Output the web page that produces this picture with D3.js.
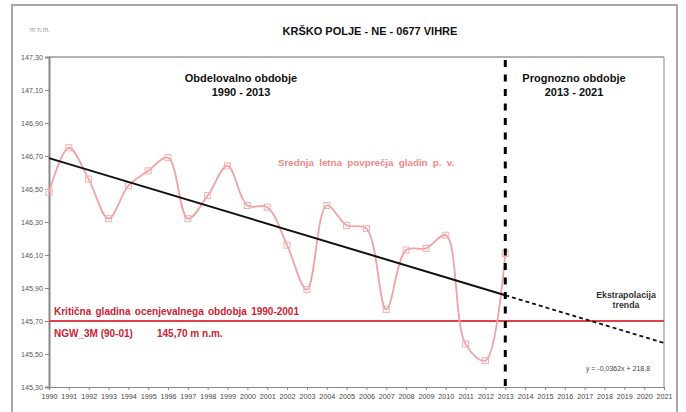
<!DOCTYPE html>
<html><head><meta charset="utf-8">
<script src="https://cdn.jsdelivr.net/npm/d3@7"></script>
<style>
html,body{margin:0;padding:0;background:#fff;}
svg{display:block;font-family:"Liberation Sans",Arial,sans-serif;}
</style></head>
<body>
<svg id="c" width="686" height="412"></svg>
<script>
const years = d3.range(1990, 2022);
const obsYears = d3.range(1990, 2014);
const levels = [146.48,146.75,146.56,146.32,146.52,146.61,146.69,146.32,146.46,146.64,146.40,146.39,
                146.16,145.89,146.40,146.28,146.26,145.77,146.13,146.14,146.22,145.56,145.46,146.11];
const yTicks = [145.30,145.50,145.70,145.90,146.10,146.30,146.50,146.70,146.90,147.10,147.30];
const criticalLevel = 145.70;
const splitYear = 2013;

const svg = d3.select("#c");
const L = 49, R = 664, T = 57, B = 387;
const x = d3.scaleLinear().domain([1990, 2021]).range([L, R]);
const y = d3.scaleLinear().domain([145.30, 147.30]).range([B, T]);
const fmt = v => d3.format(".2f")(v).replace(".", ",");

// outer border
svg.append("rect").attr("x",12).attr("y",5).attr("width",665).attr("height",410)
  .attr("fill","none").attr("stroke","#a6a6a6").attr("stroke-width",2);

// plot frame
svg.append("line").attr("x1",L).attr("x2",R).attr("y1",T).attr("y2",T).attr("stroke","#666").attr("stroke-width",1.2);
svg.append("line").attr("x1",R).attr("x2",R).attr("y1",T).attr("y2",B).attr("stroke","#999").attr("stroke-width",1.2);

// axes
const yAxis = d3.axisLeft(y).tickValues(yTicks).tickFormat(fmt).tickSize(4).tickPadding(2);
const gy = svg.append("g").attr("transform",`translate(${L},0)`).call(yAxis);
gy.select(".domain").attr("stroke","#888").attr("stroke-width",2);
gy.selectAll(".tick line").attr("stroke","#888");
gy.selectAll("text").attr("font-size",7.2).attr("fill","#555").attr("font-family","Liberation Sans, Arial, sans-serif");

const xAxis = d3.axisBottom(x).tickValues(years).tickFormat(d3.format("d")).tickSize(3).tickPadding(4);
const gx = svg.append("g").attr("transform",`translate(0,${B})`).call(xAxis);
gx.select(".domain").attr("stroke","#888").attr("stroke-width",1.2);
gx.selectAll(".tick line").attr("stroke","#888");
gx.selectAll("text").attr("font-size",7.2).attr("fill","#444").attr("font-family","Liberation Sans, Arial, sans-serif");

// critical line
svg.append("line").attr("x1",L).attr("x2",R).attr("y1",y(criticalLevel)).attr("y2",y(criticalLevel))
  .attr("stroke","#e0404c").attr("stroke-width",2);

// data line
const pts = obsYears.map((yr,i)=>[yr, levels[i]]);
const line = d3.line().x(d=>x(d[0])).y(d=>y(d[1])).curve(d3.curveCatmullRom.alpha(0.5));
svg.append("path").datum(pts).attr("d",line).attr("fill","none").attr("stroke","#f3a2a2").attr("stroke-width",1.8);
svg.selectAll("rect.m").data(pts).join("rect").attr("class","m")
  .attr("x",d=>x(d[0])-3).attr("y",d=>y(d[1])-3).attr("width",6).attr("height",6)
  .attr("fill","none").attr("stroke","#f3b0b0").attr("stroke-width",1);

// trend (least squares)
const mx = d3.mean(obsYears), my = d3.mean(levels);
const slope = d3.sum(obsYears.map((v,i)=>(v-mx)*(levels[i]-my))) / d3.sum(obsYears.map(v=>(v-mx)*(v-mx)));
const trend = yr => my + slope*(yr-mx);
svg.append("line").attr("x1",x(1990)).attr("y1",y(trend(1990))).attr("x2",x(splitYear)).attr("y2",y(trend(splitYear)))
  .attr("stroke","#111").attr("stroke-width",2);
svg.append("line").attr("x1",x(splitYear)).attr("y1",y(trend(splitYear))).attr("x2",x(2021)).attr("y2",y(trend(2021)))
  .attr("stroke","#111").attr("stroke-width",1.8).attr("stroke-dasharray","4,3");

// vertical split line
svg.append("line").attr("x1",x(splitYear)).attr("x2",x(splitYear)).attr("y1",60).attr("y2",B)
  .attr("stroke","#000").attr("stroke-width",3).attr("stroke-dasharray","7,7.5");

// texts
function txt(t, xx, yy, opts){
  const e = svg.append("text").attr("x",xx).attr("y",yy).text(t);
  Object.entries(opts||{}).forEach(([k,v])=>e.attr(k,v));
  return e;
}
txt("m n.m.", 40, 32, {"font-size":6.5,"fill":"#999","text-anchor":"middle"});
txt("KRŠKO POLJE - NE - 0677 VIHRE", 370, 35, {"font-size":11,"font-weight":"bold","fill":"#111","text-anchor":"middle"});
txt("Obdelovalno obdobje", 241, 82, {"font-size":11,"font-weight":"bold","fill":"#111","text-anchor":"middle"});
txt("1990 - 2013", 241, 96, {"font-size":11,"font-weight":"bold","fill":"#111","text-anchor":"middle"});
txt("Prognozno obdobje", 574, 82, {"font-size":11,"font-weight":"bold","fill":"#111","text-anchor":"middle"});
txt("2013 - 2021", 574, 96, {"font-size":11,"font-weight":"bold","fill":"#111","text-anchor":"middle"});
txt("Srednja letna povprečja gladin p. v.", 278, 166, {"font-size":9.8,"font-weight":"bold","fill":"#f08888","word-spacing":"2.5px"});
txt("Kritična gladina ocenjevalnega obdobja 1990-2001", 54, 315, {"font-size":10,"font-weight":"bold","fill":"#cc2233","word-spacing":"1.5px"});
txt("NGW_3M (90-01)", 54, 337, {"font-size":10,"font-weight":"bold","fill":"#cc2233"});
txt("145,70 m n.m.", 157, 337, {"font-size":10,"font-weight":"bold","fill":"#cc2233"});
txt("Ekstrapolacija", 626, 298, {"font-size":8.8,"font-weight":"bold","fill":"#333","text-anchor":"middle"});
txt("trenda", 626, 308, {"font-size":8.8,"font-weight":"bold","fill":"#333","text-anchor":"middle"});
txt("y = -0,0362x + 218,8", 618, 371, {"font-size":7,"fill":"#444","text-anchor":"middle"});
</script>
</body></html>
